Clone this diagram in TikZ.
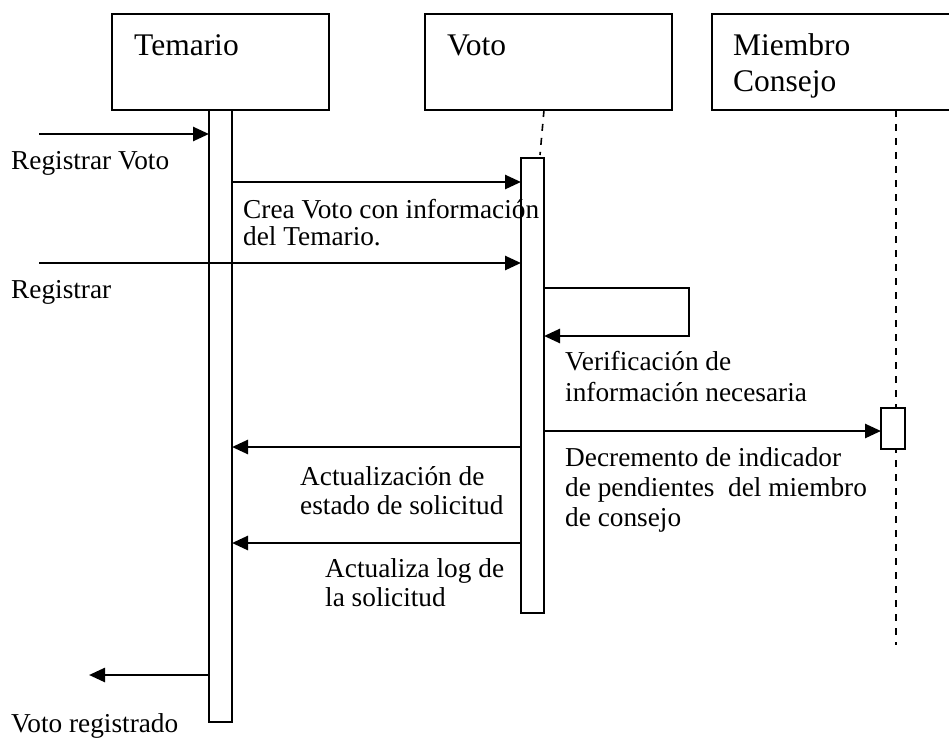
\documentclass[tikz,border=0pt]{standalone}
\usepackage{fontspec}
\setmainfont{Liberation Serif}
\usetikzlibrary{arrows.meta}
\begin{document}
\begin{tikzpicture}[x=1pt,y=-1pt,
  objbox/.style={draw,line width=1.8pt,rectangle,inner sep=0pt,outer sep=0pt,anchor=north west},
  actbar/.style={draw,line width=1.8pt,rectangle,inner sep=0pt,outer sep=0pt,anchor=north west,fill=white},
  objlabel/.style={anchor=base west,inner sep=0pt,align=left,font=\fontsize{31.5}{36}\selectfont},
  msglabel/.style={anchor=base west,inner sep=0pt,align=left,font=\fontsize{27.3}{#1}\selectfont},
  msglabel/.default=30,
  msg/.style={line width=2.6pt,-{Triangle[length=16pt,width=14pt]}},
  lifeline/.style={line width=1.6pt,dash pattern=on 7pt off 7pt}]
\useasboundingbox (0,0) rectangle (949,738);
% object boxes
\node[objbox,minimum width=217pt,minimum height=96pt] (temario) at (112,14) {};
\node[objbox,minimum width=247pt,minimum height=96pt] (voto) at (425,14) {};
\node[objbox,minimum width=240pt,minimum height=96pt] (miembro) at (712,14) {};
\node[objlabel] (tTem) at (134,56) {Temario};
\node[objlabel] (tVoto) at (447,56) {Voto};
\node[objlabel] (tMie) at (733,92) {Miembro\\Consejo};
% lifelines
\coordinate (vl1) at (544,110);
\coordinate (vl2) at (540,155);
\draw[lifeline] (vl1) -- (vl2);
\coordinate (ml1) at (896,110);
\coordinate (ml2) at (896,645);
\draw[lifeline] (ml1) -- (ml2);
% activation bars
\node[actbar,minimum width=23pt,minimum height=612pt] (tbar) at (209,110) {};
\node[actbar,minimum width=23pt,minimum height=455pt] (vbar) at (521,158) {};
\node[actbar,minimum width=24pt,minimum height=41pt] (mbar) at (881,408) {};
% message endpoints
\coordinate (in1) at (39,134);
\coordinate (in2) at (39,263);
\coordinate (out1) at (89,675);
\coordinate (s1) at (689,288);
\coordinate (s2) at (689,336);
% messages
\draw[msg] (in1) -- (in1 -| tbar.west);
\draw[msg] (tbar.east |- 0,182) -- (vbar.west |- 0,182);
\draw[msg] (in2) -- (in2 -| vbar.west);
\draw[msg] (vbar.east |- s1) -- (s1) -- (s2) -- (s2 -| vbar.east);
\draw[msg] (vbar.east |- 0,431) -- (mbar.west |- 0,431);
\draw[msg] (vbar.west |- 0,447) -- (tbar.east |- 0,447);
\draw[msg] (vbar.west |- 0,543) -- (tbar.east |- 0,543);
\draw[msg] (tbar.west |- out1) -- (out1);
% labels (placed at the baseline of their last line)
\node[msglabel] (l1) at (11,170) {Registrar Voto};
\node[msglabel=27] (l2) at (243,245) {Crea Voto con información\\del Temario.};
\node[msglabel] (l3) at (11,298) {Registrar};
\node[msglabel=31] (l4) at (565,401) {Verificación de\\información necesaria};
\node[msglabel=30] (l5) at (565,526) {Decremento de indicador\\de pendientes\ \ del miembro\\de consejo};
\node[msglabel=29] (l6) at (300,514) {Actualización de\\estado de solicitud};
\node[msglabel=29] (l7) at (325,606) {Actualiza log de\\la solicitud};
\node[msglabel] (l8) at (11,732) {Voto registrado};
\end{tikzpicture}
\end{document}
